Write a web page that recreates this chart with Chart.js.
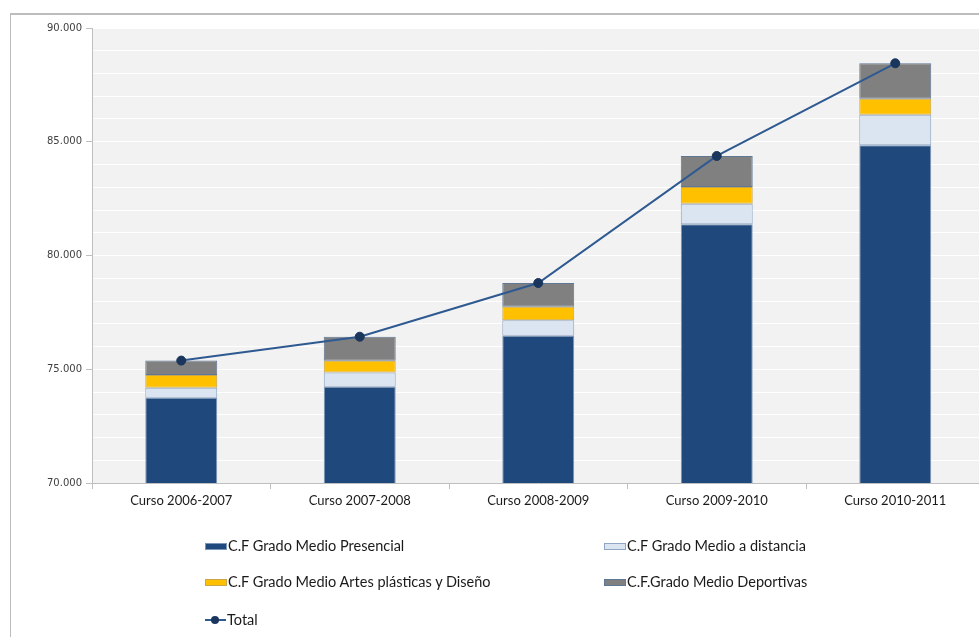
<!DOCTYPE html>
<html>
<head>
<meta charset="utf-8">
<script src="https://cdn.jsdelivr.net/npm/chart.js@4/dist/chart.umd.min.js"></script>
<style>
  html, body { margin: 0; padding: 0; background: #ffffff; overflow: hidden; width: 979px; height: 637px; }
  #wrap { position: relative; width: 979px; height: 637px; overflow: hidden; }
  #c { position: absolute; left: 0; top: 0; }
  #frame { position: absolute; left: 10px; top: 13px; width: 1000px; height: 700px;
           border-left: 1px solid #bcbcbc; border-top: 2px solid #bcbcbc; pointer-events: none; }
  .lg { position: absolute; font-family: Lato, "Open Sans", sans-serif; font-size: 14.5px; color: #1a1a1a;
        white-space: nowrap; line-height: 18px; height: 18px; }
  .lg .box { position: absolute; left: 0; top: 6px; width: 20px; height: 5px; box-sizing: content-box; }
  .lg .txt { position: absolute; left: 23px; top: 0; }
  .lg .ln { position: absolute; left: 0; top: 8px; width: 21px; height: 2px; }
  .lg .dot { position: absolute; left: 6px; top: 5px; width: 8px; height: 8px; border-radius: 50%; }
</style>
</head>
<body>
<div id="wrap">
  <canvas id="c" width="995" height="637"></canvas>
  <div id="frame"></div>
  <div id="legend"></div>
</div>
<script>
// ---- data ----
const categories = ['Curso 2006-2007', 'Curso 2007-2008', 'Curso 2008-2009', 'Curso 2009-2010', 'Curso 2010-2011'];
const seriesNames = ['C.F Grado Medio Presencial', 'C.F Grado Medio a distancia', 'C.F Grado Medio Artes plásticas y Diseño', 'C.F.Grado Medio Deportivas', 'Total'];
const presencial = [73750, 74230, 76475, 81370, 84845];
const distancia  = [440, 630, 675, 905, 1345];
const artes      = [560, 510, 600, 735, 705];
const deportivas = [630, 1060, 1040, 1365, 1555];
const total      = [75380, 76430, 78790, 84375, 88450];
const yMin = 70000, yMax = 90000, yStep = 1000, yLabelStep = 5000;

// ---- styles ----
const fills   = ['#1f497d', '#dbe5f1', '#ffc000', '#808080'];
const borders = ['#7b95b8', '#8ea5c4', '#c9a64a', '#5f7695'];
const lineColor = '#2e5a91';
const pointColor = '#1b365d';

const barSets = [presencial, distancia, artes, deportivas].map((d, i) => ({
  type: 'bar',
  label: seriesNames[i],
  data: d,
  backgroundColor: fills[i],
  borderColor: borders[i],
  borderWidth: 1,
  borderSkipped: false,
  barPercentage: 0.403,
  categoryPercentage: 1.0,
  stack: 'cf',
  order: 1
}));

const lineSet = {
  type: 'line',
  label: seriesNames[4],
  data: total,
  borderColor: lineColor,
  borderWidth: 2,
  pointRadius: 4.5,
  pointBackgroundColor: pointColor,
  pointBorderColor: pointColor,
  pointBorderWidth: 1,
  tension: 0,
  stack: 'total',
  order: 0
};

const bgPlugin = {
  id: 'bg',
  beforeDraw(chart) {
    const a = chart.chartArea, ctx = chart.ctx;
    ctx.save();
    ctx.fillStyle = '#f2f2f2';
    ctx.fillRect(a.left, a.top, a.right - a.left, a.bottom - a.top);
    ctx.restore();
  }
};

function fmt(v) {
  return String(v).replace(/\B(?=(\d{3})+(?!\d))/g, '.');
}

const chart = new Chart(document.getElementById('c'), {
  type: 'bar',
  data: { labels: categories, datasets: [...barSets, lineSet] },
  options: {
    responsive: false,
    animation: false,
    devicePixelRatio: 1,
    layout: { padding: { left: 0, right: 10.5, top: 28, bottom: 114 } },
    plugins: { legend: { display: false }, tooltip: { enabled: false } },
    scales: {
      x: {
        stacked: true,
        offset: true,
        afterFit(s) { s.height = 40; },
        grid: { offset: true, drawOnChartArea: false, tickLength: 6, color: '#bfbfbf' },
        border: { color: '#bfbfbf', width: 1 },
        ticks: { color: '#1a1a1a', padding: 4, font: { family: 'Lato', size: 13 }, maxRotation: 0 }
      },
      y: {
        stacked: true,
        min: yMin, max: yMax,
        afterFit(s) { s.width = 92; },
        grid: {
          color: (c) => (c.tick && c.tick.value === yMin) ? 'rgba(0,0,0,0)' : '#ffffff',
          tickColor: (c) => (c.tick && c.tick.value % yLabelStep === 0) ? '#bfbfbf' : 'rgba(0,0,0,0)',
          tickLength: 6,
          lineWidth: 1
        },
        border: { color: '#bfbfbf', width: 1 },
        ticks: {
          stepSize: yStep,
          autoSkip: false,
          padding: 4,
          color: '#404040',
          font: { family: 'DejaVu Sans', size: 10 },
          callback: (v) => (v % yLabelStep === 0) ? fmt(v) : ''
        }
      }
    }
  },
  plugins: [bgPlugin]
});

// ---- HTML legend built from the datasets ----
const legendPos = [
  { x: 205, y: 537 }, { x: 604, y: 537 },
  { x: 205, y: 573 }, { x: 604, y: 573 },
  { x: 205, y: 611 }
];
const lg = document.getElementById('legend');
chart.data.datasets.forEach((ds, i) => {
  const p = legendPos[i];
  const item = document.createElement('div');
  item.className = 'lg';
  item.style.left = p.x + 'px';
  item.style.top = p.y + 'px';
  if (ds.type === 'line') {
    const ln = document.createElement('span'); ln.className = 'ln'; ln.style.background = ds.borderColor;
    const dot = document.createElement('span'); dot.className = 'dot'; dot.style.background = ds.pointBackgroundColor;
    item.appendChild(ln); item.appendChild(dot);
  } else {
    const b = document.createElement('span'); b.className = 'box';
    b.style.background = ds.backgroundColor; b.style.border = '1px solid ' + ds.borderColor;
    item.appendChild(b);
  }
  const t = document.createElement('span'); t.className = 'txt'; t.textContent = ds.label;
  if (ds.type === 'line') t.style.left = '22px';
  item.appendChild(t);
  lg.appendChild(item);
});
</script>
</body>
</html>
